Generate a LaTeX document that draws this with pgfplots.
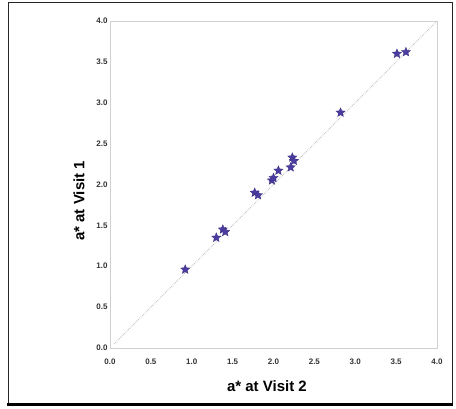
\documentclass[border=0pt]{standalone}
\usepackage{pgfplots}
\pgfplotsset{compat=1.18}
\usepackage{fontspec}
\setmainfont{Liberation Sans}
\definecolor{starblue}{HTML}{4A3CA0}
\definecolor{axisgray}{HTML}{D0D0D0}
% filled five-pointed star
\pgfdeclareplotmark{fstar}{%
  \pgfpathmoveto{\pgfpointpolar{90}{\pgfplotmarksize}}%
  \pgfpathlineto{\pgfpointpolar{126}{0.45\pgfplotmarksize}}%
  \pgfpathlineto{\pgfpointpolar{162}{\pgfplotmarksize}}%
  \pgfpathlineto{\pgfpointpolar{198}{0.45\pgfplotmarksize}}%
  \pgfpathlineto{\pgfpointpolar{234}{\pgfplotmarksize}}%
  \pgfpathlineto{\pgfpointpolar{270}{0.45\pgfplotmarksize}}%
  \pgfpathlineto{\pgfpointpolar{306}{\pgfplotmarksize}}%
  \pgfpathlineto{\pgfpointpolar{342}{0.45\pgfplotmarksize}}%
  \pgfpathlineto{\pgfpointpolar{18}{\pgfplotmarksize}}%
  \pgfpathlineto{\pgfpointpolar{54}{0.45\pgfplotmarksize}}%
  \pgfpathclose\pgfusepathqfillstroke}
\begin{document}
\begin{tikzpicture}[x=1pt,y=1pt]
  % page box and frame
  \path (-110,-61) rectangle (346,348);
  \draw[black!85, line width=0.8pt] (-102,-57) -- (-102,346) -- (342,346) -- (342,-57);
  \draw[black, line width=3pt] (-103,-57) -- (343,-57);
  \begin{axis}[
      at={(0,0)}, anchor=south west,
      scale only axis, width=327pt, height=327pt,
      xmin=0, xmax=4, ymin=0, ymax=4,
      xtick={0,0.5,...,4}, ytick={0,0.5,...,4},
      /pgf/number format/.cd, fixed, fixed zerofill, precision=1, assume math mode=true,
      /pgfplots/.cd,
      axis line style={axisgray, line width=0.8pt},
      major tick length=0pt,
      tick label style={font=\bfseries\fontsize{8}{10}\selectfont, text=black!80},
      xticklabel style={yshift=-7pt},
      yticklabel style={xshift=1pt},
      xlabel={a* at Visit 2}, ylabel={a* at Visit 1},
      label style={font=\bfseries\fontsize{15}{18}\selectfont},
      xlabel style={at={(axis description cs:0.48,0)}, anchor=center, yshift=-38pt},
      ylabel style={at={(axis description cs:0,0.45)}, anchor=center, yshift=31pt},
      clip=false,
    ]
    \addplot[axisgray!80!gray, densely dotted, line width=0.8pt] coordinates {(0.05,0.05) (4,4)};
    \addplot[only marks, mark=fstar, mark size=4.8pt, starblue, mark options={fill=starblue, draw=starblue!80!black, line width=0.3pt}] coordinates {
      (0.92,0.96) (1.30,1.35) (1.38,1.45) (1.41,1.42)
      (1.77,1.90) (1.81,1.87) (1.98,2.05) (2.00,2.08)
      (2.06,2.17) (2.21,2.21) (2.23,2.33) (2.25,2.29)
      (2.82,2.88) (3.51,3.60) (3.62,3.62)
    };
  \end{axis}
\end{tikzpicture}
\end{document}
